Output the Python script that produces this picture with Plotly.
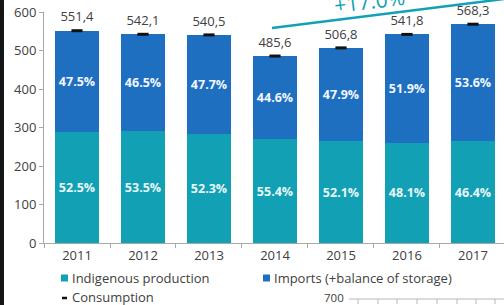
import plotly.graph_objects as go

years = ["2011", "2012", "2013", "2014", "2015", "2016", "2017"]
consumption = [551.4, 542.1, 540.5, 485.6, 506.8, 541.8, 568.3]
indigenous = [289.5, 290.0, 282.7, 269.0, 264.0, 260.6, 263.7]
imports = [261.9, 252.1, 257.8, 216.6, 242.8, 281.2, 304.6]
indigenous_pct = ["52.5%", "53.5%", "52.3%", "55.4%", "52.1%", "48.1%", "46.4%"]
imports_pct = ["47.5%", "46.5%", "47.7%", "44.6%", "47.9%", "51.9%", "53.6%"]
consumption_labels = ["551,4", "542,1", "540,5", "485,6", "506,8", "541,8", "568,3"]
y_ticks = [0, 100, 200, 300, 400, 500, 600]
growth_label = "+17.0%"

TEAL = "#12a0b5"
BLUE = "#1f6fc1"
TXT = "#404040"
FONT = "Open Sans"

W, H = 504, 305
L, R, T, B = 44, 0, 12, 62
PW, PH = W - L - R, H - T - B


def px(x):
    return (x - L) / PW


def py(y):
    return (H - B - y) / PH


fig = go.Figure()
fig.add_trace(go.Bar(
    x=years, y=indigenous, name="Indigenous production", marker_color=TEAL,
    marker_line_width=0, text=indigenous_pct, textposition="inside",
    insidetextanchor="middle", constraintext="none", textangle=0,
    textfont=dict(family=FONT, size=12.5, color="#e8f7fa", weight="bold"),
    hoverinfo="skip"))
fig.add_trace(go.Bar(
    x=years, y=imports, name="Imports (+balance of storage)", marker_color=BLUE,
    marker_line_width=0, text=imports_pct, textposition="inside",
    insidetextanchor="middle", constraintext="none", textangle=0,
    textfont=dict(family=FONT, size=12.5, color="#f2f7ff", weight="bold"),
    hoverinfo="skip"))
fig.add_trace(go.Scatter(
    x=years, y=consumption, mode="markers+text", name="Consumption",
    text=consumption_labels, textposition="top center",
    textfont=dict(family=FONT, size=13, color=TXT),
    marker=dict(symbol="line-ew", size=8, line=dict(width=3, color="#111111")),
    hoverinfo="skip", cliponaxis=False))

annotations = []

# growth arrow text
annotations.append(dict(xref="paper", yref="paper", x=px(369), y=py(1), text=growth_label,
                        showarrow=False, textangle=-7, xanchor="center", yanchor="middle",
                        font=dict(family=FONT, size=21, color=TEAL)))

# manual legend
annotations += [
    dict(xref="paper", yref="paper", x=px(70), y=py(278), text="Indigenous production",
         showarrow=False, xanchor="left", yanchor="middle", font=dict(family=FONT, size=13, color=TXT)),
    dict(xref="paper", yref="paper", x=px(272), y=py(278), text="Imports (+balance of storage)",
         showarrow=False, xanchor="left", yanchor="middle", font=dict(family=FONT, size=13, color=TXT)),
    dict(xref="paper", yref="paper", x=px(70), y=py(297), text="Consumption",
         showarrow=False, xanchor="left", yanchor="middle", font=dict(family=FONT, size=13, color=TXT)),
    dict(xref="paper", yref="paper", x=px(346), y=py(297), text="700",
         showarrow=False, xanchor="right", yanchor="middle", font=dict(family=FONT, size=11.5, color=TXT)),
]

shapes = [
    # left frame edge
    dict(type="rect", xref="paper", yref="paper", x0=px(0), x1=px(4), y0=py(H + 2), y1=py(-2),
         fillcolor="#151515", line_width=0, layer="above"),
    # growth arrow line
    dict(type="line", xref="paper", yref="paper", x0=px(272), y0=py(28), x1=px(504), y1=py(-1),
         line=dict(color=TEAL, width=2.5)),
    # legend symbols
    dict(type="rect", xref="paper", yref="paper", x0=px(61), x1=px(68), y0=py(281.5), y1=py(274.5),
         fillcolor=TEAL, line_width=0),
    dict(type="rect", xref="paper", yref="paper", x0=px(263), x1=px(270), y0=py(281.5), y1=py(274.5),
         fillcolor=BLUE, line_width=0),
    dict(type="line", xref="paper", yref="paper", x0=px(62), x1=px(67), y0=py(298), y1=py(298),
         line=dict(color="#111111", width=2.5)),
    # next chart top line
    dict(type="line", xref="paper", yref="paper", x0=px(349), x1=px(504), y0=py(299), y1=py(299),
         line=dict(color="#b8b8b8", width=1)),
]
for tx in [358, 378, 397, 417, 437, 457, 476, 495]:
    shapes.append(dict(type="line", xref="paper", yref="paper", x0=px(tx), x1=px(tx),
                       y0=py(299), y1=py(304), line=dict(color="#b8b8b8", width=1)))

fig.update_layout(
    width=W, height=H, margin=dict(l=L, r=R, t=T, b=B),
    barmode="stack", bargap=0.333, showlegend=False,
    plot_bgcolor="white", paper_bgcolor="white",
    font=dict(family=FONT, color=TXT),
    annotations=annotations, shapes=shapes,
    xaxis=dict(type="category", range=[-0.5, 6.47], showline=True, linecolor="#a8a8a8",
               ticks="outside", tickson="boundaries", ticklen=4, tickcolor="#a8a8a8",
               showgrid=False, tickfont=dict(family=FONT, size=13, color=TXT), fixedrange=True),
    yaxis=dict(range=[0, 600], tickvals=y_ticks, showline=True, linecolor="#a8a8a8",
               ticks="outside", ticklen=4, tickcolor="#a8a8a8", showgrid=False, zeroline=False,
               tickfont=dict(family=FONT, size=13, color=TXT), fixedrange=True),
)

fig.write_html("out.html", config={"displayModeBar": False},
               post_script="document.body.style.margin='0';document.body.style.overflow='hidden';")
